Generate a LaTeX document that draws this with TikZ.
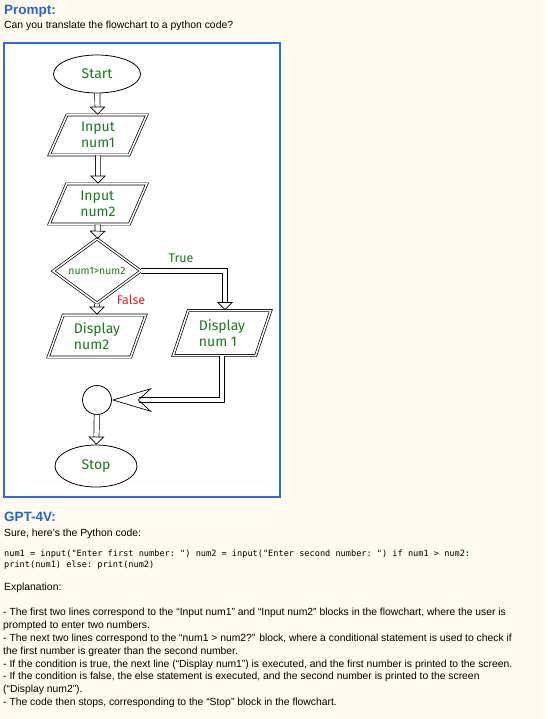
\documentclass[tikz,border=0pt]{standalone}
\usepackage{fontspec}
\setmainfont{Liberation Sans}
\setmonofont{DejaVu Sans Mono}
\newfontfamily\chartfont{Fira Sans}
\usetikzlibrary{shapes.geometric,arrows.meta}
\definecolor{paper}{HTML}{FFFBF0}
\definecolor{headblue}{HTML}{2A62D6}
\definecolor{frameblue}{HTML}{2F6BE0}
\definecolor{chartgreen}{HTML}{1C7A1C}
\definecolor{falsered}{HTML}{E8202A}

\begin{document}
\begin{tikzpicture}[x=1pt,y=-1pt,
  terminal/.style={ellipse, draw, line width=0.8pt, fill=white, text=chartgreen,
    font=\chartfont\fontsize{14}{16}\selectfont},
  iobox/.style={trapezium, trapezium left angle=70, trapezium right angle=110,
    trapezium stretches=true, draw, double, double distance=1.5pt, line width=0.7pt,
    minimum width=98pt, minimum height=40pt, inner sep=1pt, align=left, text=chartgreen,
    font=\chartfont\fontsize{14}{16.5}\selectfont},
  decision/.style={diamond, draw, double, double distance=1.5pt, line width=0.7pt,
    minimum width=88pt, minimum height=44pt, inner sep=0pt, text=chartgreen,
    font=\chartfont\fontsize{10.5}{12}\selectfont},
  flow/.style={draw, line width=0.7pt, double=white, double distance=4.5pt,
    -{Triangle[open, length=8pt, width=16pt]}},
  bigflow/.style={draw, line width=0.7pt, double=white, double distance=4.5pt,
    -{Stealth[open, length=40pt, width=24pt, inset=13pt]}},
  branch/.style={font=\chartfont\fontsize{12.5}{14}\selectfont},
  head/.style={anchor=base west, inner sep=0pt, text=headblue, font=\bfseries\fontsize{13.5}{15}\selectfont},
  plain/.style={anchor=base west, inner sep=0pt, font=\fontsize{10.4}{12}\selectfont}
]
\useasboundingbox (0,0) rectangle (547,719);
\fill[paper] (0,0) rectangle (547,719);

% prompt
\node[head] (prompt) at (4,15) {Prompt:};
\node[plain] (question) at (4,29) {Can you translate the flowchart to a python code?};

% flowchart
\draw[frameblue, line width=1.6pt, fill=white] (4,43) rectangle (280,497);
\node[terminal, minimum width=87pt, minimum height=38pt] (start) at (97,74) {Start};
\node[iobox] (in1) at (98,135) {Input\\num1};
\node[iobox] (in2) at (98,204) {Input\\num2};
\node[decision] (cond) at (97,271) {num1>num2};
\node[iobox, minimum height=42pt] (disp2) at (97,336) {Display\\num2};
\node[iobox, minimum height=45pt] (disp1) at (222,333) {Display\\num 1};
\node[circle, draw, line width=0.8pt, minimum size=29pt, inner sep=0pt] (join) at (97,400) {};
\node[terminal, minimum width=82pt, minimum height=42pt] (stop) at (96,466) {Stop};

\draw[flow] (start) -- (in1);
\draw[flow] (in1) -- (in2);
\draw[flow] (in2) -- (cond);
\draw[flow] (cond.south) -- (disp2.north);
\draw[flow] (cond.east) -| ([xshift=3pt]disp1.north);
\draw[bigflow] (disp1.south) |- (join.east);
\draw[flow] (join) -- (stop);
\node[branch, text=chartgreen] (truelabel) at (181,258) {True};
\node[branch, text=falsered] (falselabel) at (131,300) {False};

% answer
\node[head] (answer) at (4,521) {GPT-4V:};
\node[plain] (sure) at (4,536) {Sure, here's the Python code:};
\node[anchor=north west, inner sep=0pt, align=left, font=\ttfamily\fontsize{8.6}{11}\selectfont] (code) at (4,550)
  {num1 = input("Enter first number: ") num2 = input("Enter second number: ") if num1 > num2:\\
   print(num1) else: print(num2)};
\node[plain] (explain) at (4,590) {Explanation:};
\node[anchor=north west, inner sep=0pt, align=left, font=\fontsize{10.35}{12.85}\selectfont] (points) at (3,608)
  {- The first two lines correspond to the “Input num1” and “Input num2” blocks in the flowchart, where the user is\\
   prompted to enter two numbers.\\
   - The next two lines correspond to the “num1 > num2?” block, where a conditional statement is used to check if\\
   the first number is greater than the second number.\\
   - If the condition is true, the next line (“Display num1”) is executed, and the first number is printed to the screen.\\
   - If the condition is false, the else statement is executed, and the second number is printed to the screen\\
   (“Display num2”).\\
   - The code then stops, corresponding to the “Stop” block in the flowchart.};
\end{tikzpicture}
\end{document}
